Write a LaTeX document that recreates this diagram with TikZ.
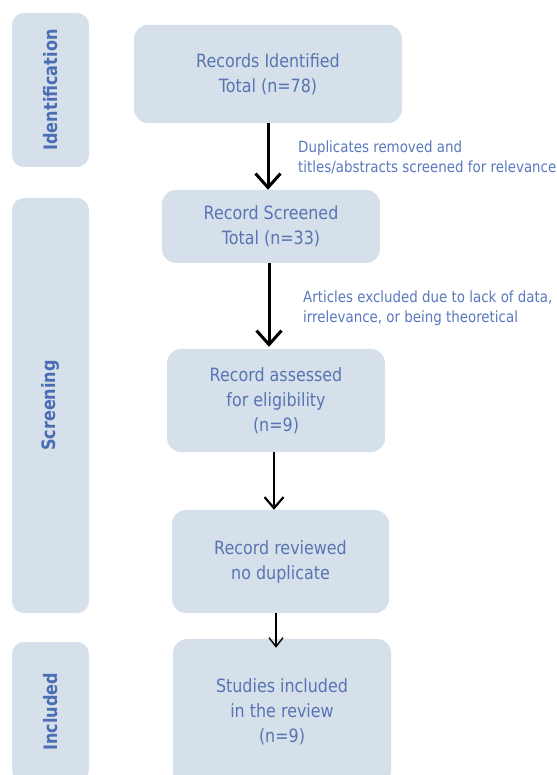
\documentclass[tikz,border=0pt]{standalone}
\usepackage{fontspec}
\setmainfont{DejaVu Sans}[FakeStretch=0.87]
\usetikzlibrary{arrows.meta,calc}
\definecolor{boxfill}{HTML}{D6E0EA}
\definecolor{boxtext}{HTML}{5874B2}
\definecolor{phasetext}{HTML}{4A6DB3}
\definecolor{notetext}{HTML}{5A79BE}
\begin{document}
\begin{tikzpicture}[x=1pt,y=-1pt,
  stagebox/.style={fill=boxfill, draw=none, rounded corners=14pt, text=boxtext, align=center,
    font=\fontsize{18.3}{25}\selectfont, inner sep=0pt},
  phasebox/.style={fill=boxfill, draw=none, rounded corners=12pt, rotate=90, minimum height=77pt,
    text=phasetext, font=\fontsize{18.5}{20}\selectfont\bfseries, inner sep=0pt},
  note/.style={text=notetext, align=left, anchor=west, font=\fontsize{15.4}{20}\selectfont, inner sep=0pt},
  flowA/.style={draw=black, line width=3pt, -{Straight Barb[length=14pt,width=25pt]}},
  flowB/.style={draw=black, line width=2.2pt, -{Straight Barb[length=11pt,width=19pt]}},
  flowC/.style={draw=black, line width=1.4pt, -{Straight Barb[length=9pt,width=14pt]}}
]
\useasboundingbox (0,0) rectangle (556,775);
\clip (0,0) rectangle (556,775);
\fill[white] (0,0) rectangle (556,775);

% phase boxes
\node[phasebox, minimum width=154pt] (ident) at (50.5,90) {Identification};
\node[phasebox, minimum width=415pt] (screen) at (50.5,405.5) {Screening};
\node[phasebox, minimum width=140pt] (incl) at (50.5,712) {Included};

% stage boxes
\node[stagebox, minimum width=268pt, minimum height=98pt] (b1) at (268,74) {Records Identified\\Total (n=78)};
\node[stagebox, minimum width=218pt, minimum height=73pt] (b2) at (271,226.5) {Record Screened\\Total (n=33)};
\node[stagebox, minimum width=218pt, minimum height=103pt] (b3) at (276,400.5) {Record assessed\\for eligibility\\(n=9)};
\node[stagebox, minimum width=217pt, minimum height=103pt] (b4) at (280.5,561.5) {Record reviewed\\no duplicate};
\node[stagebox, minimum width=218pt, minimum height=146pt] (b5) at (282,712) {Studies included\\in the review\\(n=9)};

% notes
\node[note] (n1) at (298,157) {Duplicates removed and\\titles/abstracts screened for relevance};
\node[note] (n2) at (303,308) {Articles excluded due to lack of data,\\irrelevance, or being theoretical};

% connectors
\draw[flowA] (b1.south) -- ([xshift=-3pt]b2.north);
\draw[flowA] ([xshift=-2pt]b2.south) -- ([xshift=-7pt,yshift=2pt]b3.north);
\draw[flowB] ([xshift=-2pt]b3.south) -- ([xshift=-6.5pt]b4.north);
\draw[flowC] ([xshift=-4.5pt]b4.south) -- ([xshift=-6pt,yshift=-9pt]b5.north);
\end{tikzpicture}
\end{document}
